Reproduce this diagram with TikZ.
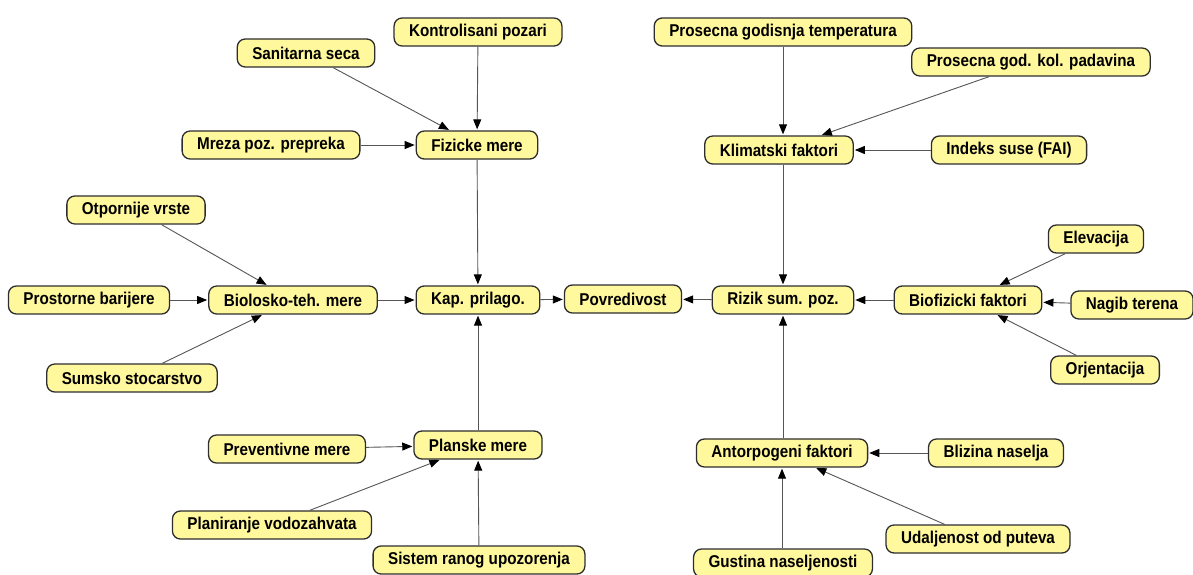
\documentclass[tikz,border=0pt]{standalone}
\usepackage{fontspec}
\setmainfont{Liberation Sans}[FakeStretch=0.89]
\usetikzlibrary{arrows.meta}
\definecolor{boxfill}{HTML}{FFF89C}
\definecolor{boxline}{HTML}{2E2E2E}
\definecolor{wire}{HTML}{555555}
\tikzset{
  factor/.style={draw=boxline, line width=1.3pt, fill=boxfill, rounded corners=8pt,
    minimum height=28pt, inner xsep=15pt, inner ysep=0pt,
    font=\fontsize{17.1}{19}\selectfont\bfseries},
  link/.style={draw=wire, line width=0.9pt,
    -{Triangle[length=10pt,width=8pt,color=black]}, shorten >=1pt}
}
\begin{document}
\begin{tikzpicture}[x=1pt,y=-1pt]
\useasboundingbox (0,0) rectangle (1193,574);
\fill[white] (0,0) rectangle (1193,574);

% upper left: physical measures
\node[factor] (kontrol) at (478,32) {Kontrolisani pozari};
\node[factor] (sanit) at (306,53) {Sanitarna seca};
\node[factor] (fiz) at (477,145) {Fizicke mere};
\node[factor] (mreza) at (271,145) {Mreza poz. prepreka};

% left: biological-technical measures
\node[factor] (otpor) at (136,210) {Otpornije vrste};
\node[factor] (prostor) at (89,300) {Prostorne barijere};
\node[factor] (bioteh) at (293,300) {Biolosko-teh. mere};
\node[factor] (sumsko) at (132,378) {Sumsko stocarstvo};

% centre
\node[factor] (kap) at (478,300) {Kap. prilago.};
\node[factor] (povr) at (623,299) {Povredivost};
\node[factor] (rizik) at (783,300) {Rizik sum. poz.};

% lower left: planning measures
\node[factor] (prev) at (287,449) {Preventivne mere};
\node[factor] (plan) at (478,445) {Planske mere};
\node[factor] (vodo) at (272,525) {Planiranje vodozahvata};
\node[factor] (sistem) at (479,560) {Sistem ranog upozorenja};

% upper right: climate
\node[factor] (temp) at (783,32) {Prosecna godisnja temperatura};
\node[factor] (padav) at (1031,62) {Prosecna god. kol. padavina};
\node[factor] (klima) at (779,150) {Klimatski faktori};
\node[factor] (indeks) at (1009,150) {Indeks suse (FAI)};

% right: biophysical
\node[factor] (biofiz) at (968,300) {Biofizicki faktori};
\node[factor] (elev) at (1096,239) {Elevacija};
\node[factor] (nagib) at (1132,305) {Nagib terena};
\node[factor] (orjent) at (1105,370) {Orjentacija};

% lower right: anthropogenic
\node[factor] (antrop) at (782,453) {Antorpogeni faktori};
\node[factor] (blizina) at (996,453) {Blizina naselja};
\node[factor] (udalj) at (978,539) {Udaljenost od puteva};
\node[factor] (gustina) at (783,563) {Gustina naseljenosti};

% connectors
\draw[link] (kontrol) -- (fiz);
\draw[link] (sanit) -- (fiz);
\draw[link] (mreza) -- (fiz);
\draw[link] (fiz) -- (kap);

\draw[link] (otpor) -- (bioteh);
\draw[link] (prostor) -- (bioteh);
\draw[link] (sumsko) -- (bioteh);
\draw[link] (bioteh) -- (kap);

\draw[link] (prev) -- (plan);
\draw[link] (vodo) -- (plan);
\draw[link] (sistem) -- (plan);
\draw[link] (plan) -- (kap);

\draw[link] (kap) -- (povr);
\draw[link] (rizik) -- (povr);

\draw[link] (temp.south) -- (temp.south |- klima.north);
\draw[link] (padav) -- (klima);
\draw[link] (indeks) -- (klima);
\draw[link] (klima.south -| rizik.north) -- (rizik.north);

\draw[link] (elev) -- (biofiz);
\draw[link] (nagib) -- (biofiz);
\draw[link] (orjent) -- (biofiz);
\draw[link] (biofiz) -- (rizik);

\draw[link] (blizina) -- (antrop);
\draw[link] (udalj) -- (antrop);
\draw[link] (gustina.north -| antrop.south) -- (antrop.south);
\draw[link] (antrop.north -| rizik.south) -- (rizik.south);
\end{tikzpicture}
\end{document}
